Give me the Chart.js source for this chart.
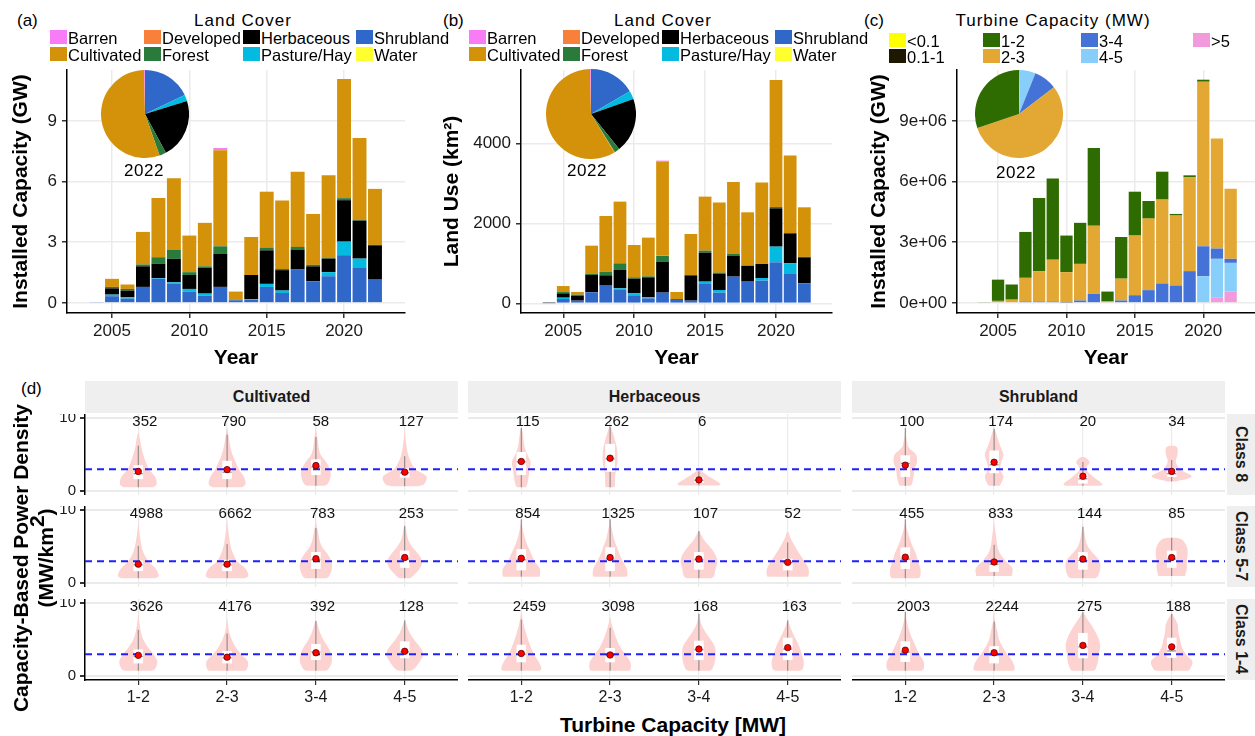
<!DOCTYPE html>
<html>
<head>
<meta charset="utf-8">
<script src="https://cdn.jsdelivr.net/npm/chart.js@4.4.1/dist/chart.umd.min.js"></script>
<style>
body { margin: 0; background: #fff; }
#page { position: relative; width: 1255px; height: 736px; overflow: hidden; font-family: "Liberation Sans", Arial, sans-serif; color: #000; }
#page canvas { position: absolute; }
.txt { position: absolute; white-space: nowrap; line-height: 1; }
.sw { position: absolute; width: 17px; height: 14px; }
.strip { position: absolute; background: #EFEFEF; font-weight: bold; font-size: 16px; color: #1a1a1a; display: flex; align-items: center; justify-content: center; }
.rstrip { writing-mode: vertical-rl; }
</style>
</head>
<body>
<div id="page"></div>
<script>
// ---- data: panels (a)-(c) ----
const years = [2004, 2005, 2006, 2007, 2008, 2009, 2010, 2011, 2012, 2013, 2014, 2015, 2016, 2017, 2018, 2019, 2020, 2021, 2022];
const yearTicks = [2005, 2010, 2015, 2020];

const landCovers = ['Barren', 'Cultivated', 'Developed', 'Forest', 'Herbaceous', 'Pasture/Hay', 'Shrubland', 'Water'];
const landColors = ['#F77CF5', '#D4920A', '#F9803A', '#2A7B3B', '#000000', '#03BBE0', '#3068C9', '#FFFF30'];

// installed capacity (GW) by land cover
const capBarren      = [0, 0, 0, 0, 0, 0, 0, 0, 0.11, 0, 0, 0, 0, 0, 0, 0, 0, 0, 0];
const capCultivated  = [0, 0.40, 0.22, 1.61, 2.93, 3.52, 1.81, 2.15, 4.75, 0.40, 1.88, 2.76, 3.38, 3.72, 2.52, 4.09, 5.90, 4.06, 2.77];
const capDeveloped   = [0, 0, 0, 0, 0, 0, 0, 0, 0, 0, 0, 0, 0, 0, 0, 0, 0, 0, 0];
const capForest      = [0, 0.07, 0.08, 0.09, 0.32, 0.46, 0.14, 0.08, 0.36, 0.03, 0, 0.14, 0.06, 0.13, 0.07, 0.03, 0.10, 0.03, 0.02];
const capHerbaceous  = [0, 0.31, 0.33, 1.02, 0.71, 1.16, 0.69, 1.27, 1.65, 0, 1.19, 1.66, 1.01, 0.99, 0.74, 0.67, 2.05, 1.88, 1.70];
const capPasture     = [0, 0.08, 0.07, 0, 0.03, 0.06, 0.13, 0.10, 0, 0, 0.03, 0.15, 0.12, 0, 0, 0.20, 0.67, 0.43, 0];
const capShrubland   = [0.03, 0.33, 0.21, 0.79, 1.20, 0.96, 0.56, 0.36, 0.79, 0.13, 0.16, 0.79, 0.49, 1.65, 1.07, 1.32, 2.36, 1.76, 1.15];
const capWater       = [0, 0, 0, 0, 0, 0, 0, 0, 0, 0, 0, 0, 0, 0, 0, 0, 0, 0, 0];

// land use (km2) by land cover
const useBarren      = [0, 0, 0, 0, 0, 0, 0, 0, 30, 0, 0, 0, 0, 0, 0, 0, 0, 0, 0];
const useCultivated  = [15, 150, 67, 708, 1391, 1542, 808, 967, 2334, 175, 1033, 1350, 1750, 1800, 1325, 2027, 3175, 1942, 1240];
const useDeveloped   = [0, 0, 0, 0, 0, 0, 0, 0, 20, 0, 0, 0, 0, 0, 0, 0, 0, 0, 0];
const useForest      = [0, 33, 33, 25, 92, 167, 33, 25, 141, 25, 0, 50, 34, 50, 17, 7, 33, 0, 10];
const useHerbaceous  = [0, 108, 117, 433, 258, 458, 367, 500, 775, 0, 633, 725, 400, 516, 391, 350, 958, 750, 650];
const usePasture     = [0, 33, 0, 0, 0, 25, 67, 25, 0, 0, 0, 59, 66, 0, 0, 66, 392, 267, 0];
const useShrubland   = [5, 108, 67, 275, 442, 350, 183, 125, 267, 83, 67, 483, 267, 667, 542, 567, 1025, 733, 500];
const useWater       = [0, 0, 0, 0, 0, 0, 0, 0, 0, 0, 0, 0, 0, 0, 0, 0, 0, 0, 0];

const turbineClasses = ['<0.1', '0.1-1', '1-2', '2-3', '3-4', '4-5', '>5'];
const turbineColors = ['#FFFF00', '#1F1800', '#2E6B00', '#E3A833', '#4472D6', '#87CEFA', '#F29ADB'];

// installed capacity by turbine class (units of 1e+06)
const tcBelow01 = [0, 0, 0, 0, 0, 0, 0, 0, 0, 0, 0, 0, 0, 0, 0, 0, 0, 0, 0];
const tc01to1   = [0, 0, 0, 0, 0, 0, 0, 0, 0, 0, 0, 0, 0, 0, 0, 0, 0, 0, 0];
const tc1to2    = [0.03, 1.05, 0.75, 2.27, 3.62, 4.01, 1.81, 2.03, 3.84, 0.49, 2.06, 2.17, 0.87, 1.38, 0.08, 0.10, 0.10, 0, 0];
const tc2to3    = [0, 0.10, 0.16, 1.17, 1.50, 2.07, 1.50, 1.81, 3.37, 0.07, 1.08, 2.95, 3.54, 4.15, 3.46, 4.64, 8.14, 5.44, 3.46];
const tc3to4    = [0, 0, 0, 0.07, 0.07, 0.07, 0.02, 0.12, 0.45, 0, 0.12, 0.38, 0.63, 0.96, 0.86, 1.57, 1.48, 0.51, 0.20];
const tc4to5    = [0, 0, 0, 0, 0, 0, 0, 0, 0, 0, 0, 0, 0, 0, 0, 0, 1.32, 1.90, 1.42];
const tcAbove5  = [0, 0, 0, 0, 0, 0, 0, 0, 0, 0, 0, 0, 0, 0, 0, 0, 0, 0.28, 0.56];

// 2022 pie shares (same order as the category lists)
const pieCoverCap = [0.003, 0.553, 0, 0.025, 0.22, 0.023, 0.18, 0];
const pieCoverUse = [0.003, 0.585, 0.002, 0.019, 0.197, 0.03, 0.166, 0];
const pieTurbine  = [0, 0, 0.302, 0.552, 0.085, 0.057, 0.004];

// ---- data: panel (d) ----
const landFacets = ['Cultivated', 'Herbaceous', 'Shrubland'];
const classRows = ['Class 8', 'Class 5-7', 'Class 1-4'];
const turbineBins = ['1-2', '2-3', '3-4', '4-5'];

const nCultivated = [[352, 790, 58, 127], [4988, 6662, 783, 253], [3626, 4176, 392, 128]];
const nHerbaceous = [[115, 262, 6, null], [854, 1325, 107, 52], [2459, 3098, 168, 163]];
const nShrubland  = [[100, 174, 20, 34], [455, 833, 144, 85], [2003, 2244, 275, 188]];

const meanCultivated = [[2.7, 2.95, 3.5, 2.6], [2.6, 2.6, 3.35, 3.5], [2.85, 2.6, 3.2, 3.4]];
const meanHerbaceous = [[4.05, 4.5, 1.55, null], [3.4, 3.5, 3.3, 2.85], [3.1, 2.9, 3.7, 3.9]];
const meanShrubland  = [[3.55, 3.95, 2.05, 2.7], [3.55, 2.9, 3.3, 3.5], [3.55, 3.2, 4.2, 4.0]];

// [q1, median, q3]
const boxCultivated = [
  [[1.7, 2.4, 3.5], [1.7, 2.6, 4.1], [2.25, 3.3, 4.3], [1.9, 2.5, 3.05]],
  [[1.7, 2.5, 3.05], [1.7, 2.5, 3.15], [2.0, 3.2, 4.2], [2.15, 3.3, 4.4]],
  [[1.8, 2.7, 3.6], [1.8, 2.5, 3.4], [2.25, 3.3, 4.35], [2.5, 3.3, 4.7]]];
const boxHerbaceous = [
  [[2.25, 4.0, 5.3], [2.7, 4.4, 6.4], [1.2, 1.5, 1.8], null],
  [[1.8, 3.2, 4.6], [1.7, 3.3, 4.85], [1.9, 3.2, 4.2], [1.8, 2.8, 3.3]],
  [[1.95, 3.0, 4.25], [1.95, 2.8, 3.8], [2.25, 3.6, 4.8], [2.25, 3.7, 5.2]]];
const boxShrubland = [
  [[2.0, 3.8, 4.85], [2.5, 3.6, 5.5], [1.1, 1.7, 2.25], [2.0, 2.4, 2.9]],
  [[2.0, 3.3, 4.85], [1.6, 2.6, 3.05], [1.9, 3.1, 4.2], [2.15, 3.3, 4.4]],
  [[2.0, 3.3, 4.7], [1.8, 2.9, 4.05], [2.5, 4.0, 5.85], [2.55, 3.45, 5.2]]];

// violin outline: [low, high, half-width at low, half-width at y = 1..8] (x-axis units)
const shapeCultivated = [
  [[0.55, 8.0, 0.17, 0.207, 0.188, 0.12, 0.083, 0.056, 0.034, 0.02, 0],
   [0.55, 8.6, 0.17, 0.207, 0.188, 0.132, 0.094, 0.06, 0.038, 0.023, 0.011],
   [0.75, 8.6, 0.10, 0.132, 0.165, 0.158, 0.113, 0.053, 0.03, 0.02, 0.008],
   [0.7, 8.3, 0.15, 0.22, 0.245, 0.12, 0.068, 0.038, 0.023, 0.011, 0.004]],
  [[0.7, 8.7, 0.19, 0.23, 0.195, 0.113, 0.064, 0.038, 0.023, 0.011, 0.004],
   [0.7, 8.7, 0.2, 0.24, 0.207, 0.113, 0.068, 0.041, 0.026, 0.015, 0.005],
   [0.7, 8.7, 0.12, 0.15, 0.18, 0.173, 0.128, 0.068, 0.038, 0.023, 0.008],
   [0.7, 8.45, 0.06, 0.094, 0.17, 0.195, 0.15, 0.083, 0.038, 0.019, 0.005]],
  [[0.75, 8.7, 0.15, 0.188, 0.214, 0.17, 0.105, 0.056, 0.03, 0.015, 0.005],
   [0.75, 7.8, 0.2, 0.226, 0.233, 0.158, 0.094, 0.053, 0.023, 0.01, 0],
   [0.75, 7.6, 0.11, 0.143, 0.18, 0.173, 0.135, 0.083, 0.045, 0.019, 0],
   [0.75, 7.6, 0.06, 0.105, 0.17, 0.207, 0.17, 0.105, 0.053, 0.02, 0]]];
const shapeHerbaceous = [
  [[0.55, 8.6, 0.05, 0.068, 0.083, 0.094, 0.105, 0.068, 0.038, 0.026, 0.015],
   [0.55, 8.8, 0.05, 0.056, 0.056, 0.068, 0.083, 0.083, 0.075, 0.053, 0.03],
   [0.8, 2.8, 0.22, 0.244, 0.113, 0, 0, 0, 0, 0, 0],
   null],
  [[0.9, 8.7, 0.2, 0.21, 0.207, 0.15, 0.113, 0.075, 0.045, 0.023, 0.008],
   [0.9, 8.7, 0.18, 0.195, 0.188, 0.143, 0.105, 0.075, 0.045, 0.026, 0.01],
   [0.7, 7.1, 0.14, 0.17, 0.188, 0.207, 0.18, 0.12, 0.053, 0.008, 0],
   [0.9, 7.0, 0.2, 0.233, 0.233, 0.188, 0.132, 0.083, 0.038, 0, 0]],
  [[0.75, 8.8, 0.2, 0.226, 0.195, 0.143, 0.105, 0.075, 0.05, 0.026, 0.011],
   [0.75, 8.1, 0.21, 0.233, 0.226, 0.17, 0.113, 0.075, 0.045, 0.02, 0.002],
   [0.75, 8.5, 0.12, 0.15, 0.18, 0.188, 0.18, 0.132, 0.075, 0.03, 0.008],
   [0.75, 7.6, 0.13, 0.17, 0.18, 0.158, 0.132, 0.094, 0.053, 0.019, 0]]];
const shapeShrubland = [
  [[0.75, 8.6, 0.06, 0.075, 0.094, 0.105, 0.132, 0.12, 0.038, 0.015, 0.005],
   [0.75, 8.5, 0.06, 0.075, 0.105, 0.068, 0.083, 0.105, 0.075, 0.045, 0.02],
   [0.75, 4.7, 0.2, 0.218, 0.113, 0.038, 0.075, 0, 0, 0, 0],
   [1.35, 6.2, 0.05, 0, 0.226, 0.094, 0.045, 0.065, 0.06, 0, 0]],
  [[0.7, 8.7, 0.15, 0.17, 0.17, 0.143, 0.12, 0.083, 0.053, 0.026, 0.008],
   [1.0, 8.5, 0.2, 0.244, 0.207, 0.132, 0.068, 0.038, 0.026, 0.015, 0.004],
   [0.7, 8.2, 0.14, 0.17, 0.195, 0.188, 0.12, 0.056, 0.03, 0.015, 0.002],
   [1.0, 6.2, 0.15, 0.15, 0.17, 0.17, 0.18, 0.17, 0.11, 0, 0]],
  [[0.75, 8.8, 0.18, 0.207, 0.207, 0.158, 0.12, 0.083, 0.05, 0.026, 0.008],
   [0.75, 8.7, 0.21, 0.233, 0.207, 0.15, 0.094, 0.056, 0.038, 0.019, 0.006],
   [0.75, 8.7, 0.12, 0.143, 0.17, 0.18, 0.195, 0.18, 0.143, 0.094, 0.038],
   [0.75, 8.5, 0.18, 0.207, 0.233, 0.158, 0.113, 0.094, 0.075, 0.068, 0.03]]];

const referenceDensity = 3;

// ---- helpers ----
Chart.defaults.font.family = '"Liberation Sans", Arial, sans-serif';
const page = document.getElementById('page');

function addCanvas(left, top, w, h) {
  const cv = document.createElement('canvas');
  cv.width = w; cv.height = h;
  cv.style.left = left + 'px'; cv.style.top = top + 'px';
  cv.style.width = w + 'px'; cv.style.height = h + 'px';
  page.appendChild(cv);
  return cv;
}

function addText(html, x, y, css, anchor) {
  const d = document.createElement('div');
  d.className = 'txt';
  d.innerHTML = html;
  d.style.left = x + 'px'; d.style.top = y + 'px';
  d.style.transform = anchor === 'left' ? 'translate(0,-50%)' : 'translate(-50%,-50%)';
  Object.assign(d.style, css || {});
  page.appendChild(d);
  return d;
}

function legend(title, titleX, titleY, x0, colOffsets, rowY, labels, colors) {
  addText(title, titleX, titleY, {fontSize: '17px', letterSpacing: '1px'});
  labels.forEach((lab, i) => {
    const col = Math.floor(i / 2), row = i % 2;
    const x = x0 + colOffsets[col];
    const sw = document.createElement('div');
    sw.className = 'sw';
    sw.style.left = x + 'px'; sw.style.top = (rowY[row] - 7) + 'px';
    sw.style.background = colors[i];
    page.appendChild(sw);
    const t = addText('', x + 18, rowY[row] + 0.5, {fontSize: '16.5px'}, 'left');
    t.textContent = lab;
  });
}

function stackedBarChart(p) {
  const cv = addCanvas(p.left, 62, p.width, 312);
  const datasets = p.series.map((vals, i) => ({
    label: p.labels[i],
    data: years.map((yr, j) => ({x: yr, y: vals[j]})),
    backgroundColor: p.colors[i],
    borderWidth: 0,
    barPercentage: 0.9,
    categoryPercentage: 1
  })).reverse();
  return new Chart(cv, {
    type: 'bar',
    data: {datasets: datasets},
    options: {
      responsive: false,
      animation: false,
      events: [],
      layout: {padding: {top: 8, right: p.padRight, left: 0, bottom: 0}, autoPadding: false},
      plugins: {legend: {display: false}, tooltip: {enabled: false}},
      scales: {
        x: {
          type: 'linear', stacked: true, offset: false, min: p.xMin, max: p.xMax,
          afterBuildTicks: s => { s.ticks = yearTicks.map(v => ({value: v})); },
          afterFit: s => { s.height = 61; s.paddingLeft = 0; s.paddingRight = 0; },
          grid: {offset: false, color: '#EBEBEB', lineWidth: 1.5, tickColor: '#333', tickLength: 5},
          border: {color: '#000', width: 1.5},
          ticks: {font: {size: 17}, color: '#1a1a1a', padding: 3, maxRotation: 0, autoSkip: false, callback: v => String(v)},
          title: {display: true, text: 'Year', font: {size: 21, weight: 'bold'}, color: '#000', padding: {top: 0, bottom: 3}}
        },
        y: {
          stacked: true, min: p.yMin, max: p.yMax,
          afterBuildTicks: s => { s.ticks = p.yTicks.map(v => ({value: v})); },
          afterFit: s => { s.width = p.yAxisWidth; s.paddingTop = 0; s.paddingBottom = 0; },
          grid: {color: '#EBEBEB', lineWidth: 1.5, tickColor: '#333', tickLength: 5},
          border: {color: '#000', width: 1.5},
          ticks: {font: {size: 17}, color: '#1a1a1a', padding: 5, callback: p.tickFmt},
          title: {display: true, text: p.yTitle, font: {size: 21, weight: 'bold'}, color: '#000', padding: {top: p.yTitlePad, bottom: 0}}
        }
      }
    }
  });
}

function pieChart(left, top, size, labels, values, colors) {
  const cv = addCanvas(left, top, size, size);
  return new Chart(cv, {
    type: 'pie',
    data: {
      labels: labels.slice().reverse(),
      datasets: [{data: values.slice().reverse(), backgroundColor: colors.slice().reverse(), borderWidth: 0}]
    },
    options: {
      responsive: false, animation: false, events: [],
      layout: {padding: 0},
      plugins: {legend: {display: false}, tooltip: {enabled: false}}
    }
  });
}

// ---- panels (a), (b), (c) ----
stackedBarChart({
  left: 0, width: 410, padRight: 5, xMin: 2002.09, xMax: 2023.94,
  yMin: -0.5, yMax: 11.52, yTicks: [0, 3, 6, 9], yAxisWidth: 67, yTitlePad: 9,
  yTitle: 'Installed Capacity (GW)', tickFmt: v => String(v),
  labels: landCovers, colors: landColors,
  series: [capBarren, capCultivated, capDeveloped, capForest, capHerbaceous, capPasture, capShrubland, capWater]
});
stackedBarChart({
  left: 420, width: 420, padRight: 8, xMin: 2002.02, xMax: 2023.95,
  yMin: -242, yMax: 5832, yTicks: [0, 2000, 4000], yAxisWidth: 101, yTitlePad: 20,
  yTitle: 'Land Use (km\u00B2)', tickFmt: v => String(v),
  labels: landCovers, colors: landColors,
  series: [useBarren, useCultivated, useDeveloped, useForest, useHerbaceous, usePasture, useShrubland, useWater]
});
stackedBarChart({
  left: 840, width: 415, padRight: 0, xMin: 2002.0, xMax: 2023.78,
  yMin: -0.5, yMax: 11.52, yTicks: [0, 3, 6, 9], yAxisWidth: 117, yTitlePad: 27,
  yTitle: 'Installed Capacity (GW)', tickFmt: v => (v === 0 ? '0e+00' : v + 'e+06'),
  labels: turbineClasses, colors: turbineColors,
  series: [tcBelow01, tc01to1, tc1to2, tc2to3, tc3to4, tc4to5, tcAbove5]
});

pieChart(101, 70, 88, landCovers, pieCoverCap, landColors);
pieChart(546, 69, 90, landCovers, pieCoverUse, landColors);
pieChart(975, 70, 88, turbineClasses, pieTurbine, turbineColors);

addText('2022', 144, 170, {fontSize: '17px', letterSpacing: '0.5px'});
addText('2022', 587, 170, {fontSize: '17px', letterSpacing: '0.5px'});
addText('2022', 1016, 172, {fontSize: '17px', letterSpacing: '0.5px'});

addText('(a)', 17, 20, {fontSize: '17px'}, 'left');
addText('(b)', 443, 20, {fontSize: '17px'}, 'left');
addText('(c)', 864, 20, {fontSize: '17px'}, 'left');
addText('(d)', 21, 388, {fontSize: '17px'}, 'left');

legend('Land Cover', 243, 20, 50, [0, 94, 193, 306], [37, 54], landCovers, landColors);
legend('Land Cover', 663, 20, 469, [0, 94, 193, 306], [37, 54], landCovers, landColors);
legend('Turbine Capacity (MW)', 1053, 20, 889, [0, 94, 192, 304], [40, 56], turbineClasses, turbineColors);

// ---- panel (d): violin facets ----
const facetLeft = [85, 468, 852];
const facetTop = [414, 506, 599];
const facetW = 373, facetH = 81;
const violinFill = '#FCD3D0';

const nByCover = [nCultivated, nHerbaceous, nShrubland];
const meanByCover = [meanCultivated, meanHerbaceous, meanShrubland];
const boxByCover = [boxCultivated, boxHerbaceous, boxShrubland];
const shapeByCover = [shapeCultivated, shapeHerbaceous, shapeShrubland];

const countLabels = {
  id: 'countLabels',
  afterDatasetsDraw(chart, args, opts) {
    const {ctx} = chart;
    const x = chart.scales.x, y = chart.scales.y;
    ctx.save();
    ctx.font = '15px "Liberation Sans", Arial, sans-serif';
    ctx.fillStyle = '#111';
    ctx.textAlign = 'center';
    ctx.textBaseline = 'middle';
    opts.counts.forEach((n, i) => {
      if (n == null) return;
      const t = String(n);
      const w = ctx.measureText(t).width;
      ctx.fillText(t, x.getPixelForValue(i + 1) + 1.8 + 0.19 * w, y.getPixelForValue(9.45));
    });
    ctx.restore();
  }
};

function facet(r, c) {
  const shapes = shapeByCover[c][r], boxes = boxByCover[c][r];
  const means = meanByCover[c][r], counts = nByCover[c][r];
  const hasY = c === 0, hasX = r === 2;
  const yW = hasY ? 40 : 0, xH = hasX ? 30 : 0;
  const cv = addCanvas(facetLeft[c] - yW, facetTop[r], facetW + yW, facetH + xH);

  const datasets = [];
  shapes.forEach((s, i) => {
    if (!s) return;
    const lo = s[0], hi = s[1];
    const lv = [[lo, s[2]]];
    s.slice(3).forEach((wk, k) => { const yy = k + 1; if (yy > lo && yy < hi) lv.push([yy, wk]); });
    lv.push([hi, 0]);
    const right = lv.map(([yy, wd]) => ({x: i + 1 + wd, y: yy}));
    const left = lv.slice(0, -1).reverse().map(([yy, wd]) => ({x: i + 1 - wd, y: yy}));
    datasets.push({
      type: 'line', data: right.concat(left), fill: 'shape',
      backgroundColor: violinFill, borderColor: 'rgba(0,0,0,0)', borderWidth: 0,
      pointRadius: 0, tension: 0.35, order: 5
    });
  });

  const whisker = [];
  boxes.forEach((b, i) => {
    if (!b) return;
    const iqr = b[2] - b[0];
    whisker.push({x: i + 1, y: Math.max(shapes[i][0], b[0] - 1.5 * iqr)});
    whisker.push({x: i + 1, y: Math.min(shapes[i][1], b[2] + 1.5 * iqr)});
    whisker.push({x: i + 1, y: null});
  });
  datasets.push({type: 'line', data: whisker, borderColor: '#808080', borderWidth: 1, pointRadius: 0, fill: false, order: 4});

  datasets.push({
    type: 'bar',
    data: boxes.map((b, i) => b && {x: i + 1, y: [b[0], b[2]]}).filter(Boolean),
    backgroundColor: '#ffffff', borderWidth: 0, barThickness: 9, order: 3
  });
  datasets.push({
    type: 'scatter',
    data: boxes.map((b, i) => b && {x: i + 1, y: b[1]}).filter(Boolean),
    pointStyle: 'line', pointRadius: 4.5, borderColor: '#8a8a8a', borderWidth: 1.2, order: 2
  });
  datasets.push({
    type: 'line',
    data: [{x: 0.4, y: referenceDensity}, {x: 4.6, y: referenceDensity}],
    borderColor: '#1F1FFF', borderWidth: 2, borderDash: [7, 5], pointRadius: 0, fill: false, order: 1
  });
  datasets.push({
    type: 'scatter',
    data: means.map((m, i) => (m == null ? null : {x: i + 1, y: m})).filter(Boolean),
    pointStyle: 'circle', pointRadius: 3.2, backgroundColor: '#FF0000', borderColor: '#5a0000', borderWidth: 0.8, order: 0
  });

  new Chart(cv, {
    type: 'line',
    data: {datasets: datasets},
    plugins: [countLabels],
    options: {
      responsive: false, animation: false, events: [],
      layout: {padding: 0, autoPadding: false},
      plugins: {legend: {display: false}, tooltip: {enabled: false}, countLabels: {counts: counts}},
      scales: {
        x: {
          type: 'linear', min: 0.4, max: 4.6, offset: false,
          afterBuildTicks: s => { s.ticks = [1, 2, 3, 4].map(v => ({value: v})); },
          afterFit: s => { s.height = xH; s.paddingLeft = 0; s.paddingRight = 0; },
          grid: {offset: false, color: '#EBEBEB', lineWidth: 1.2, drawTicks: hasX, tickColor: '#333', tickLength: 5},
          border: {display: hasX, color: '#000', width: 1.5},
          ticks: {display: hasX, font: {size: 16}, color: '#1a1a1a', padding: 3, maxRotation: 0, autoSkip: false,
                  callback: v => turbineBins[v - 1]}
        },
        y: {
          type: 'linear', min: -0.5, max: 10.5,
          afterBuildTicks: s => { s.ticks = [0, 10].map(v => ({value: v})); },
          afterFit: s => { s.width = yW; s.paddingTop = 0; s.paddingBottom = 0; },
          grid: {color: '#EBEBEB', lineWidth: 2, drawTicks: hasY, tickColor: '#333', tickLength: 5},
          border: {display: hasY, color: '#000', width: 1.5},
          ticks: {display: hasY, font: {size: 15}, color: '#1a1a1a', padding: 4}
        }
      }
    }
  });
}

for (let r = 0; r < 3; r++) {
  for (let c = 0; c < 3; c++) facet(r, c);
}

// strips
landFacets.forEach((name, c) => {
  const d = document.createElement('div');
  d.className = 'strip';
  d.style.left = facetLeft[c] + 'px'; d.style.top = '381px';
  d.style.width = facetW + 'px'; d.style.height = '32px';
  d.textContent = name;
  page.appendChild(d);
});
classRows.forEach((name, r) => {
  const d = document.createElement('div');
  d.className = 'strip rstrip';
  d.style.left = '1227px'; d.style.top = facetTop[r] + 'px';
  d.style.width = '28px'; d.style.height = facetH + 'px';
  d.textContent = name;
  page.appendChild(d);
});

// facet axis titles
const yTitle = document.createElement('div');
yTitle.className = 'txt';
Object.assign(yTitle.style, {
  left: (33.5 - 170) + 'px', top: (558 - 26) + 'px', width: '340px', height: '52px',
  transform: 'rotate(-90deg)', textAlign: 'center', fontWeight: 'bold', fontSize: '21px', lineHeight: '25px'
});
yTitle.innerHTML = 'Capacity-Based Power Density<br>(MW/km<sup style="font-size:100%;line-height:0;vertical-align:0.45em">2</sup>)';
page.appendChild(yTitle);

addText('Turbine Capacity [MW]', 673, 724, {fontSize: '21px', fontWeight: 'bold'});
</script>
</body>
</html>
